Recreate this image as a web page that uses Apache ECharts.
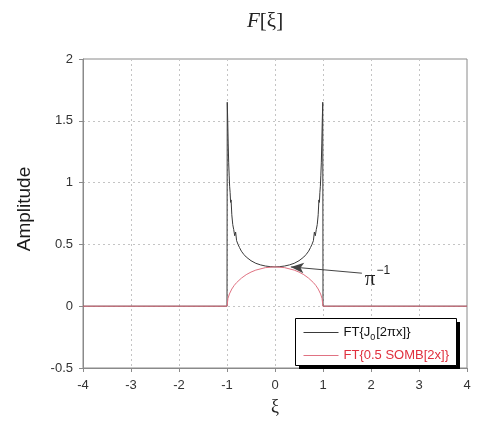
<!DOCTYPE html>
<html>
<head>
<meta charset="utf-8">
<script src="https://cdn.jsdelivr.net/npm/echarts@6/dist/echarts.min.js"></script>
<style>
html,body{margin:0;padding:0;background:#fff;}
#main{width:485px;height:422px;}
</style>
</head>
<body>
<div id="main"></div>
<script>
// ---- data ----
var xiJ0 = [-4, -1.0, -0.995, -0.985, -0.975, -0.965, -0.955, -0.945, -0.935, -0.925, -0.915, -0.9, -0.88, -0.86, -0.84, -0.82, -0.8, -0.77, -0.74, -0.7, -0.65, -0.6, -0.5, -0.4, -0.3, -0.2, -0.1, 0,
            0.1, 0.2, 0.3, 0.4, 0.5, 0.6, 0.65, 0.7, 0.74, 0.77, 0.8, 0.82, 0.84, 0.86, 0.88, 0.9, 0.915, 0.925, 0.935, 0.945, 0.955, 0.965, 0.975, 0.985, 0.995, 1.0, 4];
var ampJ0 = [0, 0, 1.65, 1.5, 1.32, 1.16, 1.06, 0.97, 0.92, 0.84, 0.86, 0.74, 0.66, 0.62, 0.57, 0.6, 0.53, 0.5, 0.475, 0.445, 0.419, 0.398, 0.368, 0.347, 0.334, 0.325, 0.320, 0.318,
             0.320, 0.325, 0.334, 0.347, 0.368, 0.398, 0.419, 0.445, 0.475, 0.5, 0.53, 0.6, 0.57, 0.62, 0.66, 0.74, 0.86, 0.84, 0.92, 0.97, 1.06, 1.16, 1.32, 1.5, 1.65, 0, 0];
var xiSomb = [-4, -1.0, -0.98, -0.95, -0.9, -0.85, -0.8, -0.7, -0.6, -0.5, -0.4, -0.2, 0, 0.2, 0.4, 0.5, 0.6, 0.7, 0.8, 0.85, 0.9, 0.95, 0.98, 1.0, 4];
var ampSomb = [0, 0, 0.063, 0.099, 0.139, 0.168, 0.191, 0.227, 0.255, 0.276, 0.292, 0.312, 0.318, 0.312, 0.292, 0.276, 0.255, 0.227, 0.191, 0.168, 0.139, 0.099, 0.063, 0, 0];
var xTicks = [-4, -3, -2, -1, 0, 1, 2, 3, 4];
var yTicks = [-0.5, 0, 0.5, 1, 1.5, 2];
var seriesNames = ['FT{J0[2πx]}', 'FT{0.5 SOMB[2x]}'];
var arrowTip = [0.33, 0.318];
var arrowTail = [1.81, 0.267];

function zip(a, b) { return a.map(function (v, i) { return [v, b[i]]; }); }

var chart = echarts.init(document.getElementById('main'), null, {renderer: 'canvas'});
var axisFont = 'Liberation Sans, Arial, sans-serif';
var option = {
  animation: false,
  backgroundColor: '#fff',
  title: {
    text: '{i|F}[ξ]',
    left: 242,
    top: 6,
    textStyle: {
      fontFamily: 'Liberation Serif, Times New Roman, serif',
      fontSize: 21,
      fontWeight: 'normal',
      color: '#222',
      rich: {
        i: {fontFamily: 'Liberation Serif, serif', fontStyle: 'italic', fontSize: 21, color: '#222'}
      }
    }
  },
  graphic: [
    {type: 'rect', z: 1, silent: true, shape: {x: 299, y: 322, width: 161, height: 47}, style: {fill: '#000'}},
    {type: 'rect', z: 1, silent: true, shape: {x: 295.5, y: 318.5, width: 161, height: 47}, style: {fill: '#fff', stroke: '#000', lineWidth: 1}}
  ],
  grid: {left: 83, right: 18, top: 59, bottom: 54, show: true, borderColor: '#8a8a8a', borderWidth: 1, backgroundColor: 'transparent'},
  xAxis: {
    type: 'value', min: xTicks[0], max: xTicks[xTicks.length - 1], interval: 1,
    name: 'ξ', nameLocation: 'middle', nameGap: 30,
    nameTextStyle: {fontFamily: 'Liberation Serif, serif', fontSize: 18, color: '#222'},
    axisLine: {show: true, onZero: false, lineStyle: {color: '#8a8a8a', width: 1}},
    axisTick: {show: true, inside: false, length: 4, lineStyle: {color: '#8a8a8a'}},
    axisLabel: {fontFamily: axisFont, fontSize: 13, color: '#333', margin: 11},
    splitLine: {show: true, lineStyle: {color: '#c4c4c4', type: [2, 3], width: 1}}
  },
  yAxis: {
    type: 'value', min: yTicks[0], max: yTicks[yTicks.length - 1], interval: 0.5,
    name: 'Amplitude', nameLocation: 'middle', nameGap: 49,
    nameTextStyle: {fontFamily: axisFont, fontSize: 19, color: '#1a1a1a', padding: [0, 0, 0, 9]},
    axisLine: {show: true, onZero: false, lineStyle: {color: '#8a8a8a', width: 1}},
    axisTick: {show: true, inside: false, length: 4, lineStyle: {color: '#8a8a8a'}},
    axisLabel: {fontFamily: axisFont, fontSize: 13, color: '#333', margin: 10},
    splitLine: {show: true, lineStyle: {color: '#c4c4c4', type: [2, 3], width: 1}}
  },
  legend: {
    orient: 'vertical',
    left: 295, top: 318,
    padding: [8, 8, 5, 8],
    itemGap: 7,
    itemWidth: 35, itemHeight: 14,
    z: 5,
    backgroundColor: 'transparent',
    borderWidth: 0,
    itemStyle: {opacity: 0},
    lineStyle: {width: 1},
    formatter: function (name) {
      if (name === seriesNames[0]) return 'FT{J{sub|0}[2πx]}';
      return name;
    },
    data: [
      {name: seriesNames[0], textStyle: {color: '#111'}},
      {name: seriesNames[1], textStyle: {color: '#e0303e'}}
    ],
    textStyle: {
      fontFamily: axisFont, fontSize: 13, color: '#111',
      rich: {sub: {fontSize: 9, fontFamily: axisFont, color: '#111', padding: [10, 1, 0, 0]}}
    }
  },
  series: [
    {
      name: seriesNames[0], type: 'line', data: zip(xiJ0, ampJ0), showSymbol: false, symbol: 'none',
      lineStyle: {color: '#3a3a3a', width: 1}, itemStyle: {color: '#3a3a3a'},
      z: 2,
      markLine: {
        silent: true,
        symbolSize: [8, 13],
        lineStyle: {color: '#444', width: 1, type: 'solid'},
        label: {
          show: true, position: 'end', distance: 3,
          formatter: '{p|π}{s|−1}',
          rich: {
            p: {fontFamily: 'Liberation Serif, serif', fontSize: 21, color: '#222', padding: [12, 0, 0, 0]},
            s: {fontFamily: 'Liberation Sans, sans-serif', fontSize: 12, color: '#222', padding: [0, 0, 6, 1]}
          }
        },
        data: [[
          {coord: arrowTip, symbol: 'arrow'},
          {coord: arrowTail, symbol: 'none'}
        ]]
      }
    },
    {
      name: seriesNames[1], type: 'line', data: zip(xiSomb, ampSomb), showSymbol: false, symbol: 'none',
      lineStyle: {color: '#e07282', width: 1}, itemStyle: {color: '#e07282'},
      z: 3
    }
  ]
};
chart.setOption(option);
</script>
</body>
</html>
